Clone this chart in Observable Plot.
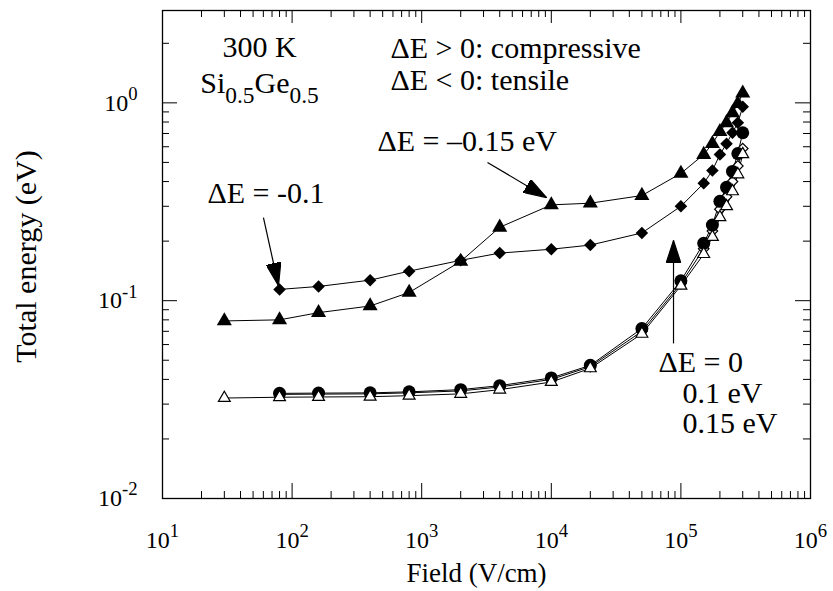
<!DOCTYPE html>
<html><head><meta charset="utf-8">
<script src="https://cdn.jsdelivr.net/npm/d3@7"></script>
<script src="https://cdn.jsdelivr.net/npm/@observablehq/plot@0.6"></script>
<style>
html,body{margin:0;padding:0;background:#fff;}
#chart{width:833px;height:591px;}
</style></head><body><div id="chart"></div>
<script>
// ---- data ----
const fields = [30, 80, 160, 400, 800, 2000, 4000, 10000, 20000, 50000, 100000, 150000, 175000, 200000, 225000, 250000, 275000, 300000];
// ΔE = -0.15 eV (filled triangles)
const energyMinus015 = [0.079, 0.080, 0.087, 0.094, 0.110, 0.158, 0.235, 0.305, 0.311, 0.340, 0.440, 0.548, 0.622, 0.715, 0.793, 0.890, 0.990, 1.12];
// ΔE = -0.1 eV (filled diamonds)
const energyMinus01 = [null, 0.114, 0.118, 0.127, 0.141, 0.160, 0.174, 0.182, 0.191, 0.220, 0.300, 0.392, 0.455, 0.548, 0.622, 0.707, 0.793, 0.955];
// ΔE = 0 (filled circles)
const energyZero = [null, 0.0340, 0.0341, 0.0342, 0.0346, 0.0355, 0.0372, 0.0407, 0.0471, 0.0723, 0.126, 0.195, 0.241, 0.318, 0.374, 0.450, 0.554, 0.706];
// ΔE = 0.1 eV (open diamonds)
const energyPlus01 = [null, 0.0336, 0.0337, 0.0338, 0.0342, 0.0350, 0.0366, 0.0400, 0.0464, 0.0700, 0.122, 0.183, 0.225, 0.290, 0.335, 0.400, 0.480, 0.587];
// ΔE = 0.15 eV (open triangles)
const energyPlus015 = [0.0322, 0.0325, 0.0326, 0.0327, 0.0331, 0.0338, 0.0355, 0.0388, 0.0455, 0.0680, 0.119, 0.172, 0.210, 0.264, 0.300, 0.357, 0.435, 0.550];

const xTickValues = [1e1, 1e2, 1e3, 1e4, 1e5, 1e6];
const yTickValues = [1e-2, 1e-1, 1e0];
const xDomain = [10, 1e6];
const yDomain = [0.01, 2.93];

const xTitle = "Field (V/cm)";
const yTitle = "Total energy (eV)";

// annotations
const noteText = ["300 K", "Si_{0.5}Ge_{0.5}", "ΔE > 0: compressive", "ΔE < 0: tensile", "ΔE = -0.1", "ΔE = –0.15 eV", "ΔE = 0", "0.1 eV", "0.15 eV"];
const noteX = [56, 56, 574, 574, 22.2, 456, 67100, 102800, 102800];
const noteY = [1.905, 1.253, 1.884, 1.298, 0.348, 0.638, 0.0487, 0.034, 0.0239];
const noteAnchor = ["middle", "middle", "start", "start", "start", "start", "start", "start", "start"];

const arrowX1 = [60.1, 3220, 87700];
const arrowY1 = [0.263, 0.50, 0.0608];
const arrowX2 = [78.5, 9190, 87700];
const arrowY2 = [0.119, 0.332, 0.2015];

// ---- build tables ----
function rowsOf(values, series) {
  return fields.map((f, i) => ({field: f, energy: values[i], series})).filter(d => d.energy != null);
}
const sMinus015 = rowsOf(energyMinus015, "-0.15");
const sMinus01 = rowsOf(energyMinus01, "-0.1");
const sZero = rowsOf(energyZero, "0");
const sPlus01 = rowsOf(energyPlus01, "0.1");
const sPlus015 = rowsOf(energyPlus015, "0.15");
const allRows = [...sMinus015, ...sMinus01, ...sZero, ...sPlus01, ...sPlus015];

const notes = noteText.map((t, i) => ({text: t, x: noteX[i], y: noteY[i], anchor: noteAnchor[i]}));
const arrows = arrowX1.map((x1, i) => ({x1, y1: arrowY1[i], x2: arrowX2[i], y2: arrowY2[i]}));

function minorTicks(lo, hi) {
  const out = [];
  for (let e = Math.floor(Math.log10(lo)); e <= Math.ceil(Math.log10(hi)); e++) {
    for (let m = 2; m <= 9; m++) { const v = m * Math.pow(10, e); if (v > lo && v < hi) out.push(v); }
  }
  return out;
}
const xMinor = minorTicks(xDomain[0], xDomain[1]);
const yMinor = minorTicks(yDomain[0], yDomain[1]);
const expFmt = d => `10^{${Math.round(Math.log10(d))}}`;

const width = 833, height = 591;
const mL = 162, mR = 23, mT = 10, mB = 93;
const fw = width - mL - mR, fh = height - mT - mB;
const majorLen = 15, minorLen = 7;

const ns = "http://www.w3.org/2000/svg";
function filledHead(color, context) {
  const doc = (context && context.document) || document;
  const m = doc.createElementNS(ns, "marker");
  m.setAttribute("viewBox", "-23 -7.5 23 15");
  m.setAttribute("markerWidth", 23);
  m.setAttribute("markerHeight", 15);
  m.setAttribute("markerUnits", "userSpaceOnUse");
  m.setAttribute("orient", "auto");
  const p = doc.createElementNS(ns, "path");
  p.setAttribute("d", "M0,0L-23,-7.5L-23,7.5Z");
  p.setAttribute("fill", "black");
  m.appendChild(p);
  return m;
}

const chart = Plot.plot({
  width, height,
  marginLeft: mL, marginRight: mR, marginTop: mT, marginBottom: mB,
  x: {type: "log", domain: xDomain, axis: null},
  y: {type: "log", domain: yDomain, axis: null},
  style: {fontFamily: "'Liberation Serif', 'Times New Roman', serif", fontSize: "24px", color: "black", background: "white"},
  marks: [
    // ticks (inward, all four sides)
    Plot.tickX(xTickValues, {x: d => d, insetTop: fh - majorLen, stroke: "black"}),
    Plot.tickX(xTickValues, {x: d => d, insetBottom: fh - 13, stroke: "black"}),
    Plot.tickX(xMinor, {x: d => d, insetTop: fh - minorLen, stroke: "black"}),
    Plot.tickX(xMinor, {x: d => d, insetBottom: fh - minorLen, stroke: "black"}),
    Plot.tickY(yTickValues, {y: d => d, insetRight: fw - majorLen, stroke: "black"}),
    Plot.tickY(yTickValues, {y: d => d, insetLeft: fw - majorLen, stroke: "black"}),
    Plot.tickY(yMinor, {y: d => d, insetRight: fw - minorLen, stroke: "black"}),
    Plot.tickY(yMinor, {y: d => d, insetLeft: fw - minorLen, stroke: "black"}),
    Plot.frame({stroke: "black", strokeWidth: 1.3}),
    // tick labels
    Plot.text(xTickValues, {x: d => d, frameAnchor: "bottom", lineAnchor: "middle", dy: 42, text: expFmt, fontSize: 24}),
    Plot.text(yTickValues, {y: d => d, frameAnchor: "left", lineAnchor: "middle", dx: -25, textAnchor: "end", text: expFmt, fontSize: 24}),
    // axis titles
    Plot.text([yTitle], {frameAnchor: "left", textAnchor: "middle", lineAnchor: "middle", dx: -136, dy: 2, rotate: -90, text: d => d, fontSize: 30}),
    Plot.text([xTitle], {frameAnchor: "bottom", textAnchor: "middle", lineAnchor: "middle", dx: -10, dy: 75, text: d => d, fontSize: 27}),
    // lines
    Plot.line(allRows, {x: "field", y: "energy", z: "series", stroke: "black", strokeWidth: 1}),
    // markers
    Plot.dot(sPlus01, {x: "field", y: "energy", symbol: "square", rotate: 45, r: 4.2, fill: "white", stroke: "black", strokeWidth: 1.2}),
    Plot.dot(sZero, {x: "field", y: "energy", symbol: "circle", r: 6.5, fill: "black", stroke: "none"}),
    Plot.dot(sPlus015, {x: "field", y: "energy", symbol: "triangle", r: 4.4, fill: "white", stroke: "black", strokeWidth: 1.2}),
    Plot.dot(sMinus01, {x: "field", y: "energy", symbol: "square", rotate: 45, r: 5.0, fill: "black", stroke: "none"}),
    Plot.dot(sMinus015, {x: "field", y: "energy", symbol: "triangle", r: 5.6, fill: "black", stroke: "none"}),
    // arrows
    Plot.link(arrows, {x1: "x1", y1: "y1", x2: "x2", y2: "y2", stroke: "black", strokeWidth: 1.2, markerEnd: filledHead}),
    // annotations
    Plot.text(notes.filter(d => d.anchor === "middle"), {x: "x", y: "y", text: "text", textAnchor: "middle", fontSize: 30}),
    Plot.text(notes.filter(d => d.anchor === "start"), {x: "x", y: "y", text: "text", textAnchor: "start", fontSize: 30})
  ]
});
document.getElementById("chart").appendChild(chart);

// rich text: ^{...} superscript, _{...} subscript
chart.querySelectorAll("text").forEach(t => {
  const s = t.textContent;
  if (!/[\^_]\{/.test(s)) return;
  const fs = parseFloat(getComputedStyle(t).fontSize) || 24;
  const parts = [];
  const re = /([\^_])\{([^}]*)\}|([^\^_]+)/g;
  let m;
  while ((m = re.exec(s))) parts.push(m[3] != null ? {type: null, text: m[3]} : {type: m[1], text: m[2]});
  t.textContent = "";
  let shift = 0;
  parts.forEach(p => {
    const ts = document.createElementNS(ns, "tspan");
    const target = p.type === "^" ? -0.45 * fs : p.type === "_" ? 0.33 * fs : 0;
    if (target !== shift) ts.setAttribute("dy", (target - shift).toFixed(2));
    shift = target;
    if (p.type) ts.setAttribute("font-size", (0.78 * fs).toFixed(1));
    ts.textContent = p.text;
    t.appendChild(ts);
  });
});
</script>
</body></html>
